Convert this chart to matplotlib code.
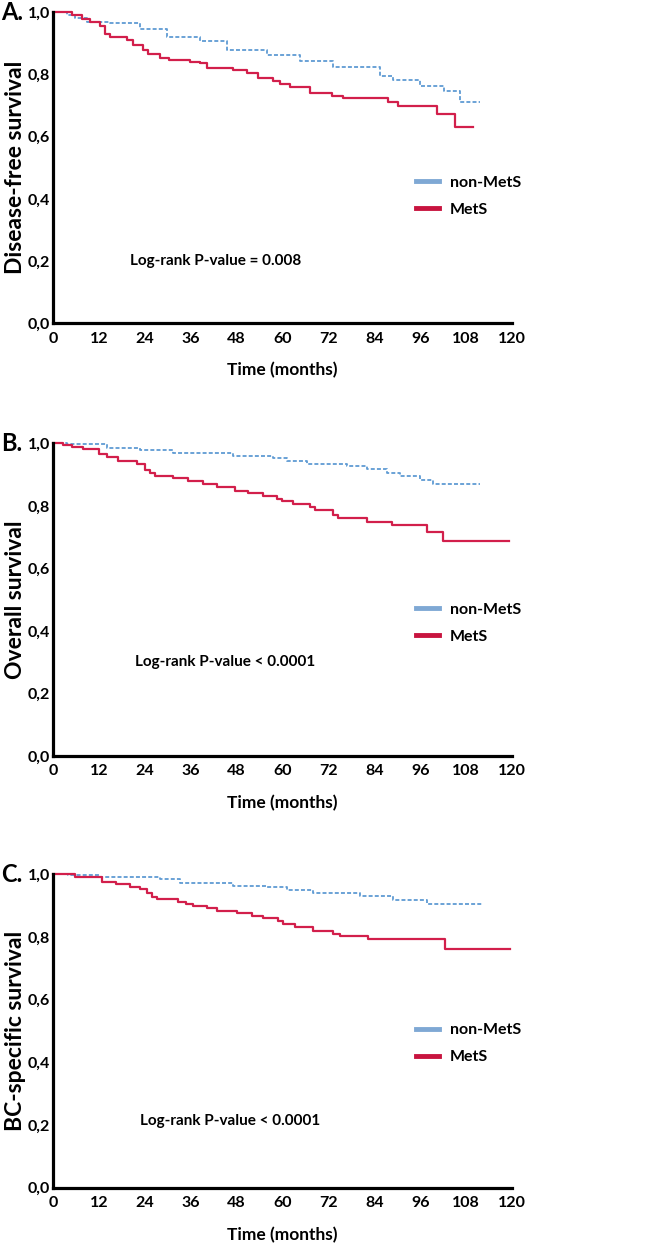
#!/usr/bin/env python3
"""Kaplan-Meier curves, MetS vs non-MetS, three endpoints stacked."""

import matplotlib

matplotlib.use("Agg")
import matplotlib.pyplot as plt

plt.rcParams["font.family"] = ["Lato", "DejaVu Sans"]
plt.rcParams["font.weight"] = "bold"

# panel A: disease-free survival
dfs_mets_t = [0, 4.9, 7.5, 9.8, 12.3, 13.6, 14.9, 19.3, 21.0, 23.6, 24.9, 27.9, 30.2, 35.8, 38.4,
              40.2, 47.1, 50.6, 53.7, 57.6, 59.3, 61.9, 67.2, 72.9, 75.9, 87.7, 90.3, 100.3, 105.1, 109.9]
dfs_mets_s = [1.0, 0.990, 0.977, 0.969, 0.955, 0.931, 0.920, 0.911, 0.894, 0.878, 0.867, 0.854, 0.846,
              0.840, 0.836, 0.821, 0.814, 0.805, 0.790, 0.779, 0.770, 0.760, 0.740, 0.730, 0.723, 0.712,
              0.698, 0.672, 0.631, 0.631]
dfs_non_t = [0, 3.6, 5.8, 9.0, 14.9, 22.7, 29.7, 38.4, 45.4, 55.9, 64.6, 73.3, 85.5, 89.0, 95.9, 102.1,
             106.4, 111.6]
dfs_non_s = [1.0, 0.992, 0.981, 0.970, 0.964, 0.946, 0.922, 0.907, 0.880, 0.862, 0.844, 0.824, 0.794,
             0.781, 0.762, 0.747, 0.712, 0.712]

# panel B: overall survival
os_mets_t = [0, 2.7, 4.9, 7.9, 11.9, 14.0, 17.1, 21.9, 24.0, 25.4, 26.7, 31.5, 35.4, 39.3, 42.8, 47.6,
             51.1, 55.0, 58.5, 59.8, 62.8, 67.2, 68.5, 73.3, 74.6, 82.0, 88.5, 97.7, 102.0, 119.1]
os_mets_s = [1.0, 0.995, 0.989, 0.981, 0.966, 0.955, 0.943, 0.933, 0.915, 0.904, 0.895, 0.888, 0.879,
             0.870, 0.859, 0.848, 0.840, 0.832, 0.823, 0.815, 0.806, 0.797, 0.787, 0.772, 0.760, 0.749,
             0.739, 0.717, 0.689, 0.689]
os_non_t = [0, 3.6, 14.0, 22.7, 31.5, 47.1, 57.6, 61.1, 66.3, 76.8, 82.0, 87.2, 90.7, 95.9, 99.4, 111.6]
os_non_s = [1.0, 0.997, 0.986, 0.979, 0.968, 0.959, 0.952, 0.944, 0.934, 0.928, 0.917, 0.906, 0.895,
            0.883, 0.870, 0.870]

# panel C: BC-specific survival
bcs_mets_t = [0, 5.8, 12.7, 16.6, 20.1, 22.7, 24.5, 25.8, 27.1, 32.8, 34.9, 36.7, 40.2, 42.8, 48.0,
              52.0, 55.0, 58.9, 60.2, 63.3, 68.1, 73.3, 75.0, 82.4, 102.5, 119.5]
bcs_mets_s = [1.0, 0.992, 0.976, 0.968, 0.960, 0.952, 0.941, 0.929, 0.920, 0.913, 0.905, 0.899, 0.891,
              0.883, 0.875, 0.868, 0.861, 0.850, 0.840, 0.833, 0.819, 0.811, 0.803, 0.792, 0.761, 0.761]
bcs_non_t = [0, 4.0, 12.3, 28.0, 33.2, 47.1, 55.9, 61.1, 68.1, 80.3, 89.0, 97.7, 112.1]
bcs_non_s = [1.0, 0.998, 0.990, 0.984, 0.973, 0.964, 0.960, 0.950, 0.939, 0.931, 0.918, 0.905, 0.905]

panel_tags = ["A.", "B.", "C."]
ylabels = ["Disease-free survival", "Overall survival", "BC-specific survival"]
pvalue_texts = ["Log-rank P-value = 0.008", "Log-rank P-value < 0.0001", "Log-rank P-value < 0.0001"]
series_labels = ["non-MetS", "MetS"]
xticks = list(range(0, 121, 12))
yticks = [0.0, 0.2, 0.4, 0.6, 0.8, 1.0]
ytick_labels = ["0,0", "0,2", "0,4", "0,6", "0,8", "1,0"]

BLUE = "#5f9bd3"
RED = "#d21f4b"

W, H = 646, 1247
# axes boxes in pixels: (top, bottom)
boxes = [(12.3, 323.3), (443.3, 756.0), (874.3, 1187.7)]
X0, X1 = 53, 512
pval_pos = [(20.1, 0.20), (21.4, 0.30), (22.7, 0.213)]
legend_y = [0.475, 0.49, 0.525]

curves = [
    (dfs_non_t, dfs_non_s, dfs_mets_t, dfs_mets_s),
    (os_non_t, os_non_s, os_mets_t, os_mets_s),
    (bcs_non_t, bcs_non_s, bcs_mets_t, bcs_mets_s),
]

fig = plt.figure(figsize=(W / 100, H / 100), dpi=100)
for i, (top, bot) in enumerate(boxes):
    ax = fig.add_axes([X0 / W, 1 - bot / H, (X1 - X0) / W, (bot - top) / H])
    nt, ns, mt, ms = curves[i]
    ax.step(nt, ns, where="post", color=BLUE, lw=1.3, ls=(0, (2.2, 1.2)), clip_on=False)
    ax.step(mt, ms, where="post", color=RED, lw=1.6, clip_on=False)
    ax.set_xlim(0, 120)
    ax.set_ylim(0, 1)
    ax.set_xticks(xticks)
    ax.set_yticks(yticks)
    ax.set_yticklabels(ytick_labels)
    ax.tick_params(axis="both", length=0, labelsize=11.5)
    ax.tick_params(axis="x", pad=6)
    ax.tick_params(axis="y", pad=2)
    for side in ["top", "right"]:
        ax.spines[side].set_visible(False)
    for side in ["left", "bottom"]:
        ax.spines[side].set_linewidth(2.3)
    ax.set_xlabel("Time (months)", fontsize=12.5, fontweight="bold", labelpad=12)
    ax.set_ylabel(ylabels[i], fontsize=16.5, fontweight="bold")
    ax.yaxis.set_label_coords(-0.058, 0.5)
    ax.text(-0.114, 1.0, panel_tags[i], transform=ax.transAxes, fontsize=17, fontweight="bold",
            ha="left", va="center")
    px, py = pval_pos[i]
    ax.text(px, py, pvalue_texts[i], fontsize=11, fontweight="bold", ha="left", va="center")
    handles = [
        plt.Line2D([], [], color="#7fa8d4", lw=3.5),
        plt.Line2D([], [], color="#c8143f", lw=3.5),
    ]
    ax.legend(handles, series_labels, loc="upper left", bbox_to_anchor=(0.79, legend_y[i]),
              frameon=False, handlelength=1.45, handletextpad=0.7, labelspacing=0.8,
              borderpad=0, borderaxespad=0, prop={"weight": "bold", "size": 11.5})

fig.savefig("out.png", dpi=100)
